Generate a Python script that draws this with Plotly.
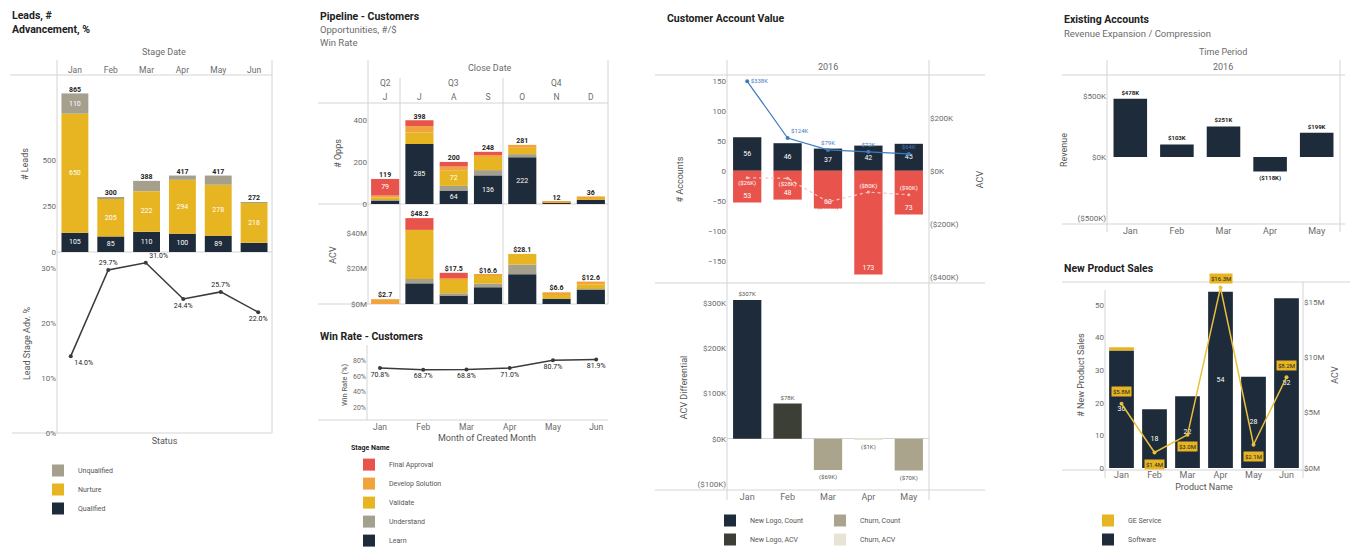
import plotly.graph_objects as go

W, H = 1353, 554
def px(x): return x / W
def py(y): return 1 - y / H

FONT = "Roboto"
NAVY = "#1e2b3a"
GOLD = "#e7b522"
GRAY = "#a59f8d"
RED = "#e8534b"
ORANGE = "#f1a33c"
OLIVE = "#3c3f35"
TAN = "#aaa48c"
CREAM = "#e7e3d5"
BLUE = "#3f7bbf"
LINE_YELLOW = "#e9c03a"
AX = "#d4d4d4"
TICK = "#6b6b6b"
TITLE = "#222222"

# ---------------- Leads ----------------
lead_months = ["Jan", "Feb", "Mar", "Apr", "May", "Jun"]
leads_qualified = [105, 85, 110, 100, 89, 50]
leads_nurture = [650, 205, 222, 294, 278, 218]
leads_unqualified = [110, 10, 56, 23, 50, 4]
lead_adv_pct = [14.0, 29.7, 31.0, 24.4, 25.7, 22.0]
lead_adv_textpos = ["bottom right", "top center", "top right", "bottom center", "top center", "bottom center"]

# ---------------- Pipeline ----------------
close_months = ["Jun", "Jul", "Aug", "Sep", "Oct", "Nov", "Dec"]
close_month_ticks = ["J", "J", "A", "S", "O", "N", "D"]
quarter_labels = ["Q2", "Q3", "Q4"]
quarter_centers = ["Jun", "Aug", "Nov"]
stage_names = ["Learn", "Understand", "Validate", "Develop Solution", "Final Approval"]
opps_learn = [15, 285, 64, 136, 222, 6, 20]
opps_understand = [5, 0, 22, 25, 15, 0, 0]
opps_validate = [10, 55, 72, 58, 30, 0, 6]
opps_develop = [10, 30, 20, 14, 14, 6, 10]
opps_final = [79, 28, 22, 15, 0, 0, 0]
acv_learn = [0, 11.6, 5.0, 9.4, 16.7, 3.0, 8.0]
acv_understand = [0, 2.5, 1.0, 2.0, 5.4, 0, 0.5]
acv_validate = [0, 27.5, 8.0, 4.5, 6.0, 2.5, 2.5]
acv_develop = [2.7, 0, 0.5, 0.7, 0, 1.1, 1.6]
acv_final = [0, 6.6, 3.0, 0, 0, 0, 0]
win_months = ["Jan", "Feb", "Mar", "Apr", "May", "Jun"]
win_rate = [70.8, 68.7, 68.8, 71.0, 80.7, 81.9]

# ---------------- Customer Account Value ----------------
acct_months = ["Jan", "Feb", "Mar", "Apr", "May"]
new_logo_count = [56, 46, 37, 42, 45]
churn_count = [-53, -48, -63, -173, -73]
new_logo_acv_k = [338, 124, 79, 72, 64]
churn_acv_k = [-26, -28, -117, -80, -90]
acv_diff_k = [307, 78, -69, -1, -70]
acv_diff_group = ["New Logo, Count", "New Logo, ACV", "Churn, Count", "Churn, ACV", "Churn, Count"]

# ---------------- Existing Accounts ----------------
rev_months = ["Jan", "Feb", "Mar", "Apr", "May"]
revenue_k = [478, 103, 251, -118, 199]

# ---------------- New Product Sales ----------------
prod_months = ["Jan", "Feb", "Mar", "Apr", "May", "Jun"]
software_sales = [36, 18, 22, 54, 28, 52]
ge_service_sales = [1, 0, 0, 0, 0, 0]
prod_acv_m = [5.8, 1.4, 3.0, 16.3, 2.1, 8.2]
prod_label_shift = [12, -12, -12, 9, -12, 12]


def kfmt(v):
    return f"${v:,.0f}K" if v >= 0 else f"(${-v:,.0f}K)"


fig = go.Figure()
small_white = dict(color="white", size=7, family=FONT)
small_dark = dict(color=TITLE, size=7, family=FONT, weight="bold")

# Leads bars
for name, vals, col in [("Qualified", leads_qualified, NAVY),
                        ("Nurture", leads_nurture, GOLD),
                        ("Unqualified", leads_unqualified, GRAY)]:
    fig.add_bar(x=lead_months, y=vals, name=name, marker=dict(color=col, line=dict(width=0)),
                xaxis="x", yaxis="y", legend="legend", text=vals, textposition="inside",
                insidetextanchor="middle", textangle=0, textfont=small_white, width=0.75)
lead_tot = [a + b + c for a, b, c in zip(leads_qualified, leads_nurture, leads_unqualified)]
fig.add_scatter(x=lead_months, y=lead_tot, mode="text", text=lead_tot, textposition="top center",
                textfont=small_dark, xaxis="x", yaxis="y", showlegend=False, cliponaxis=False)
fig.add_scatter(x=lead_months, y=lead_adv_pct, mode="lines+markers+text",
                line=dict(color="#3a3a3a", width=1.5), marker=dict(size=4, color="#3a3a3a"),
                text=[f"{v:.1f}%" for v in lead_adv_pct], textposition=lead_adv_textpos,
                textfont=dict(color=TITLE, size=7, family=FONT), xaxis="x2", yaxis="y2",
                showlegend=False, cliponaxis=False)

# Pipeline bars
stage_colors = [NAVY, GRAY, GOLD, ORANGE, RED]
opps_series = [opps_learn, opps_understand, opps_validate, opps_develop, opps_final]
acv_series = [acv_learn, acv_understand, acv_validate, acv_develop, acv_final]
for name, col, ov, av in zip(stage_names, stage_colors, opps_series, acv_series):
    fig.add_bar(x=close_months, y=ov, name=name, marker=dict(color=col, line=dict(width=0)),
                xaxis="x3", yaxis="y3", legend="legend2", legendgroup=name,
                text=[v if v else "" for v in ov], textposition="inside", insidetextanchor="middle",
                textangle=0, textfont=small_white, width=0.82)
    fig.add_bar(x=close_months, y=av, name=name, marker=dict(color=col, line=dict(width=0)),
                xaxis="x4", yaxis="y4", legendgroup=name, showlegend=False, width=0.82)
opps_tot = [sum(v) for v in zip(*opps_series)]
acv_tot = [sum(v) for v in zip(*acv_series)]
fig.add_scatter(x=close_months, y=opps_tot, mode="text", text=opps_tot, textposition="top center",
                textfont=small_dark, xaxis="x3", yaxis="y3", showlegend=False, cliponaxis=False)
fig.add_scatter(x=close_months, y=acv_tot, mode="text", text=[f"${v:.1f}" for v in acv_tot],
                textposition="top center", textfont=small_dark, xaxis="x4", yaxis="y4",
                showlegend=False, cliponaxis=False)
fig.add_scatter(x=win_months, y=win_rate, mode="lines+markers+text",
                line=dict(color="#3a3a3a", width=1.5), marker=dict(size=4, color="#3a3a3a"),
                text=[f"{v:.1f}%" for v in win_rate], textposition="bottom center",
                textfont=dict(color=TITLE, size=7, family=FONT), xaxis="x5", yaxis="y5",
                showlegend=False, cliponaxis=False)

# Customer Account Value
fig.add_bar(x=acct_months, y=new_logo_count, marker=dict(color=NAVY, line=dict(width=0)),
            xaxis="x6", yaxis="y6", showlegend=False, text=new_logo_count, textposition="inside",
            insidetextanchor="middle", textangle=0, textfont=small_white, width=0.7, name="New Logos")
fig.add_bar(x=acct_months, y=churn_count, marker=dict(color=RED, line=dict(width=0)),
            xaxis="x6", yaxis="y6", showlegend=False, text=[-v for v in churn_count],
            textposition="inside", insidetextanchor="end", textangle=0, textfont=small_white, width=0.7,
            name="Churned")
fig.add_scatter(x=acct_months, y=new_logo_acv_k, mode="lines+markers+text",
                line=dict(color=BLUE, width=1.2), marker=dict(size=4, color=BLUE),
                text=[kfmt(v) for v in new_logo_acv_k],
                textposition=["middle right", "top right", "top center", "top center", "top center"],
                textfont=dict(size=6, color=BLUE, family=FONT), xaxis="x6", yaxis="y7",
                showlegend=False, cliponaxis=False)
fig.add_scatter(x=acct_months, y=churn_acv_k, mode="lines+markers+text",
                line=dict(color="#f6c4c0", width=1.2, dash="dot"), marker=dict(size=3, color="#f6c4c0"),
                text=[kfmt(v) for v in churn_acv_k],
                textposition=["bottom center", "bottom center", "bottom center", "top center", "top center"],
                textfont=dict(size=6, color=["white", "white", RED, "white", "white"], family=FONT),
                xaxis="x6", yaxis="y7", showlegend=False, cliponaxis=False)
diff_colors = {"New Logo, Count": NAVY, "New Logo, ACV": OLIVE, "Churn, Count": TAN, "Churn, ACV": CREAM}
diff_legend = {"New Logo, Count": "legend3", "New Logo, ACV": "legend3",
               "Churn, Count": "legend4", "Churn, ACV": "legend4"}
for g in ["New Logo, Count", "New Logo, ACV", "Churn, Count", "Churn, ACV"]:
    xs = [m for m, gg in zip(acct_months, acv_diff_group) if gg == g]
    ys = [v for v, gg in zip(acv_diff_k, acv_diff_group) if gg == g]
    fig.add_bar(x=xs, y=ys, name=g, marker=dict(color=diff_colors[g], line=dict(width=0)),
                xaxis="x8", yaxis="y8", legend=diff_legend[g], text=[kfmt(v) for v in ys],
                textposition="outside", textangle=0, textfont=dict(size=6, color="#555", family=FONT),
                width=0.7, cliponaxis=False)

# Existing accounts
fig.add_bar(x=rev_months, y=revenue_k, marker=dict(color=NAVY, line=dict(width=0)),
            xaxis="x9", yaxis="y9", showlegend=False, text=[kfmt(v) for v in revenue_k],
            textposition="outside", textangle=0, textfont=dict(size=6, color=TITLE, family=FONT, weight="bold"),
            width=0.72, name="Revenue", cliponaxis=False)

# New product sales
fig.add_bar(x=prod_months, y=software_sales, name="Software", marker=dict(color=NAVY, line=dict(width=0)),
            xaxis="x10", yaxis="y10", legend="legend5", text=software_sales, textposition="inside",
            insidetextanchor="middle", textangle=0, textfont=small_white, width=0.75)
fig.add_bar(x=prod_months, y=ge_service_sales, name="GE Service", marker=dict(color=GOLD, line=dict(width=0)),
            xaxis="x10", yaxis="y10", legend="legend5", width=0.75)
fig.add_scatter(x=prod_months, y=prod_acv_m, mode="lines+markers",
                line=dict(color=LINE_YELLOW, width=1.5), marker=dict(size=4, color=LINE_YELLOW),
                xaxis="x10", yaxis="y11", showlegend=False, cliponaxis=False, name="ACV")

annotations = []
for m, v, s in zip(prod_months, prod_acv_m, prod_label_shift):
    annotations.append(dict(x=m, y=v, xref="x10", yref="y11", text=f"${v:.1f}M", showarrow=False,
                            yshift=s, bgcolor=GOLD, font=dict(size=6, color=TITLE, family=FONT),
                            borderpad=1))


def ann(x, y, text, bold=False, size=9, color=TICK, anchor="left"):
    annotations.append(dict(x=px(x), y=py(y), xref="paper", yref="paper", text=f"<b>{text}</b>" if bold else text,
                            showarrow=False, xanchor=anchor, yanchor="middle",
                            font=dict(size=size, color=TITLE if bold else color, family=FONT)))


TS = 10.5
SS = 9.5
ann(10, 15, "Leads, #", bold=True, size=TS)
ann(10, 30, "Advancement, %", bold=True, size=TS)
ann(164, 52, "Stage Date", anchor="center")
ann(318, 17, "Pipeline - Customers", bold=True, size=TS)
ann(318, 30, "Opportunities, #/$", size=SS)
ann(318, 43, "Win Rate", size=SS)
ann(490, 68, "Close Date", anchor="center")
ann(318, 336, "Win Rate - Customers", bold=True, size=TS)
ann(665, 18, "Customer Account Value", bold=True, size=TS)
ann(828, 67, "2016", anchor="center")
ann(1062, 20, "Existing Accounts", bold=True, size=TS)
ann(1062, 34, "Revenue Expansion / Compression", size=SS)
ann(1223, 52, "Time Period", anchor="center")
ann(1223, 67, "2016", anchor="center")
ann(1062, 268, "New Product Sales", bold=True, size=TS)
for q, c in zip(quarter_labels, quarter_centers):
    annotations.append(dict(x=c, y=py(83), xref="x3", yref="paper", text=q, showarrow=False,
                            yanchor="middle", font=dict(size=8.5, color=TICK, family=FONT)))

segs = [
    (10, 75, 272, 75), (57, 252, 272, 252), (12, 433, 272, 433), (57, 60, 57, 433), (272, 60, 272, 433),
    (318, 103, 608, 103), (318, 204, 608, 204), (318, 304, 608, 304), (368, 60, 368, 304),
    (400, 78, 400, 304), (503, 78, 503, 304), (608, 60, 608, 304),
    (318, 420, 608, 420), (367, 345, 367, 420),
    (655, 75, 985, 75), (655, 283, 985, 283), (655, 490, 985, 490), (727, 60, 727, 500), (929, 60, 929, 500),
    (1062, 75, 1345, 75), (1062, 224, 1345, 224), (1107, 60, 1107, 232), (1340, 60, 1340, 232),
    (1062, 282, 1350, 282), (1062, 470, 1310, 470), (1105, 290, 1105, 478), (1303, 282, 1303, 478),
]
shapes = [dict(type="line", xref="paper", yref="paper", x0=px(a), y0=py(b), x1=px(c), y1=py(d),
               line=dict(color=AX, width=1), layer="below") for a, b, c, d in segs]

tf = dict(size=8, color=TICK, family=FONT)
tfx = dict(size=8.5, color=TICK, family=FONT)
ttl = dict(size=9, color="#555", family=FONT)
base_x = dict(showgrid=False, zeroline=False, showline=False, ticks="", tickfont=tfx, type="category")
base_y = dict(showgrid=False, zeroline=False, showline=False, ticks="", tickfont=tf)

def xa(**k):
    d = dict(base_x); d.update(k); return d

def ya(**k):
    d = dict(base_y); d.update(k); return d

def pct(vals):
    return [f"{v}%" for v in vals]

leg_common = dict(font=dict(size=7, color="#555", family=FONT), bgcolor="rgba(0,0,0,0)",
                  xanchor="left", yanchor="top", itemsizing="constant", tracegroupgap=0, itemwidth=30)

fig.update_layout(
    width=W, height=H, margin=dict(l=0, r=0, t=0, b=0, autoexpand=False),
    paper_bgcolor="white", plot_bgcolor="white",
    font=dict(family=FONT, size=7, color=TICK),
    barmode="relative",
    uniformtext=dict(minsize=6, mode="hide"),
    annotations=annotations, shapes=shapes,
    xaxis=xa(domain=[px(57), px(272)], anchor="y", side="top", categoryarray=lead_months),
    yaxis=ya(domain=[py(252), py(76)], anchor="x", range=[0, 960], tickvals=[0, 250, 500],
             title=dict(text="# Leads", font=ttl, standoff=12)),
    xaxis2=xa(domain=[px(57), px(272)], anchor="y2", showticklabels=False,
              title=dict(text="Status", font=ttl, standoff=4)),
    yaxis2=ya(domain=[py(433), py(254)], anchor="x2", range=[0, 32.6], tickvals=[0, 10, 20, 30],
              ticktext=pct([0, 10, 20, 30]), title=dict(text="Lead Stage Adv. %", font=ttl, standoff=8)),
    xaxis3=xa(domain=[px(368), px(608)], anchor="y3", side="top", tickvals=close_months,
              ticktext=close_month_ticks, categoryarray=close_months),
    yaxis3=ya(domain=[py(204), py(103)], anchor="x3", range=[0, 480], tickvals=[0, 200, 400],
              title=dict(text="# Opps", font=ttl, standoff=10)),
    xaxis4=xa(domain=[px(368), px(608)], anchor="y4", showticklabels=False, categoryarray=close_months),
    yaxis4=ya(domain=[py(304), py(206)], anchor="x4", range=[0, 55], tickvals=[0, 20, 40],
              ticktext=["$0M", "$20M", "$40M"], title=dict(text="ACV", font=ttl, standoff=8)),
    xaxis5=xa(domain=[px(367), px(607)], anchor="y5", range=[-0.3, 5.25],
              title=dict(text="Month of Created Month", font=ttl, standoff=4)),
    yaxis5=ya(domain=[py(420), py(350)], anchor="x5", range=[4, 94], tickvals=[20, 40, 60, 80],
              ticktext=pct([20, 40, 60, 80]), tickfont=dict(size=7, color=TICK, family=FONT),
              title=dict(text="Win Rate (%)", font=dict(size=7.5, color="#555", family=FONT), standoff=4)),
    xaxis6=xa(domain=[px(727), px(929)], anchor="y6", showticklabels=False, categoryarray=acct_months),
    yaxis6=ya(domain=[py(283), py(76)], anchor="x6", range=[-187, 158],
              tickvals=[-150, -100, -50, 0, 50, 100, 150], title=dict(text="# Accounts", font=ttl, standoff=22)),
    yaxis7=ya(overlaying="y6", side="right", anchor="x6", range=[-423, 358],
              tickvals=[-400, -200, 0, 200], ticktext=[kfmt(v) for v in [-400, -200, 0, 200]],
              title=dict(text="ACV", font=ttl, standoff=18)),
    xaxis8=xa(domain=[px(727), px(929)], anchor="y8", categoryarray=acct_months,
              tickfont=dict(size=9, color=TICK, family=FONT)),
    yaxis8=ya(domain=[py(490), py(285)], anchor="x8", range=[-113, 340],
              tickvals=[-100, 0, 100, 200, 300], ticktext=[kfmt(v) for v in [-100, 0, 100, 200, 300]],
              zeroline=True, zerolinecolor=AX, zerolinewidth=1,
              title=dict(text="ACV Differential", font=ttl, standoff=8)),
    xaxis9=xa(domain=[px(1107), px(1340)], anchor="y9", categoryarray=rev_months,
              tickfont=dict(size=9, color=TICK, family=FONT)),
    yaxis9=ya(domain=[py(224), py(76)], anchor="x9", range=[-549, 664], tickvals=[-500, 0, 500],
              ticktext=[kfmt(v) for v in [-500, 0, 500]], title=dict(text="Revenue", font=ttl, standoff=8)),
    xaxis10=xa(domain=[px(1105), px(1303)], anchor="y10", categoryarray=prod_months,
               tickfont=dict(size=9, color=TICK, family=FONT),
               title=dict(text="Product Name", font=ttl, standoff=4)),
    yaxis10=ya(domain=[py(468), py(282)], anchor="x10", range=[0, 57], tickvals=[0, 10, 20, 30, 40, 50],
               title=dict(text="# New Product Sales", font=ttl, standoff=8)),
    yaxis11=ya(overlaying="y10", side="right", anchor="x10", range=[0, 16.8], tickvals=[0, 5, 10, 15],
               ticktext=["$0M", "$5M", "$10M", "$15M"], title=dict(text="ACV", font=ttl, standoff=8)),
    legend=dict(leg_common, x=px(38), y=py(456), traceorder="reversed"),
    legend2=dict(leg_common, x=px(349), y=py(441), traceorder="reversed",
                 title=dict(text="<b>Stage Name</b>", font=dict(size=7, color=TITLE, family=FONT), side="top")),
    legend3=dict(leg_common, x=px(710), y=py(506)),
    legend4=dict(leg_common, x=px(820), y=py(506)),
    legend5=dict(leg_common, x=px(1088), y=py(506), traceorder="reversed"),
)

fig.write_html("out.html")
